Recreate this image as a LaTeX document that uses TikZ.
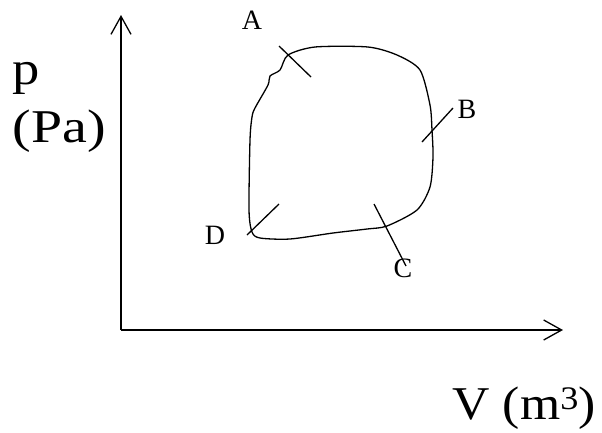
\documentclass[tikz,border=0pt]{standalone}
\usepackage{fontspec}
\setmainfont{Liberation Serif}
\usetikzlibrary{arrows.meta}
\newcommand{\widetext}[2]{\scalebox{#1}[1]{#2}}
\begin{document}
\begin{tikzpicture}[x=1pt,y=-1pt,line width=1.3pt,
    axisarrow/.style={-{Straight Barb[length=18pt,width=20pt]}},
    biglabel/.style={font=\fontsize{47}{52}\selectfont,inner sep=0pt},
    ptlabel/.style={font=\fontsize{28}{32}\selectfont,inner sep=0pt}]

    \useasboundingbox (0,0) rectangle (602,432);

    % Axes
    \coordinate (o) at (121,330);
    \coordinate (ytip) at (121,15);
    \coordinate (xtip) at (563,330);
    \draw[axisarrow] (o) -- (ytip);
    \draw[axisarrow] (o) -- (xtip);

    % Axis labels
    \node[biglabel, anchor=base west] (plabel) at (12,84) {\widetext{1.16}{p}};
    \node[biglabel, anchor=base west] (palabel) at (12,142) {\widetext{1.19}{(Pa)}};
    \node[biglabel, anchor=base west] (vlabel) at (452,419) {\widetext{1.1}{V (m\textsuperscript{3})}};

    % Closed cycle
    \draw[line join=round] plot[smooth cycle, tension=0.45] coordinates {
        (288,55) (315,47) (368,47) (397,55) (420,70) (430,105) (432,130)
        (433,157) (430,187) (417,210) (387,226) (367,229) (333,233)
        (290,239) (260,238) (252,232) (249,210) (250,140) (252,117)
        (255,108) (268,85) (270,76) (280,70)};

    % Tick marks at the states
    \coordinate (a1) at (279,46);
    \coordinate (a2) at (311,77);
    \coordinate (b1) at (422,142);
    \coordinate (b2) at (453,108);
    \coordinate (c1) at (374,204);
    \coordinate (c2) at (406,266);
    \coordinate (d1) at (247,235);
    \coordinate (d2) at (279,204);
    \draw (a1) -- (a2);
    \draw (b1) -- (b2);
    \draw (c1) -- (c2);
    \draw (d1) -- (d2);

    % State labels
    \node[ptlabel, anchor=base] (A) at (252,29) {A};
    \node[ptlabel, anchor=base] (B) at (467,118) {B};
    \node[ptlabel, anchor=base] (C) at (403,277) {C};
    \node[ptlabel, anchor=base] (D) at (215,244) {D};

\end{tikzpicture}
\end{document}
